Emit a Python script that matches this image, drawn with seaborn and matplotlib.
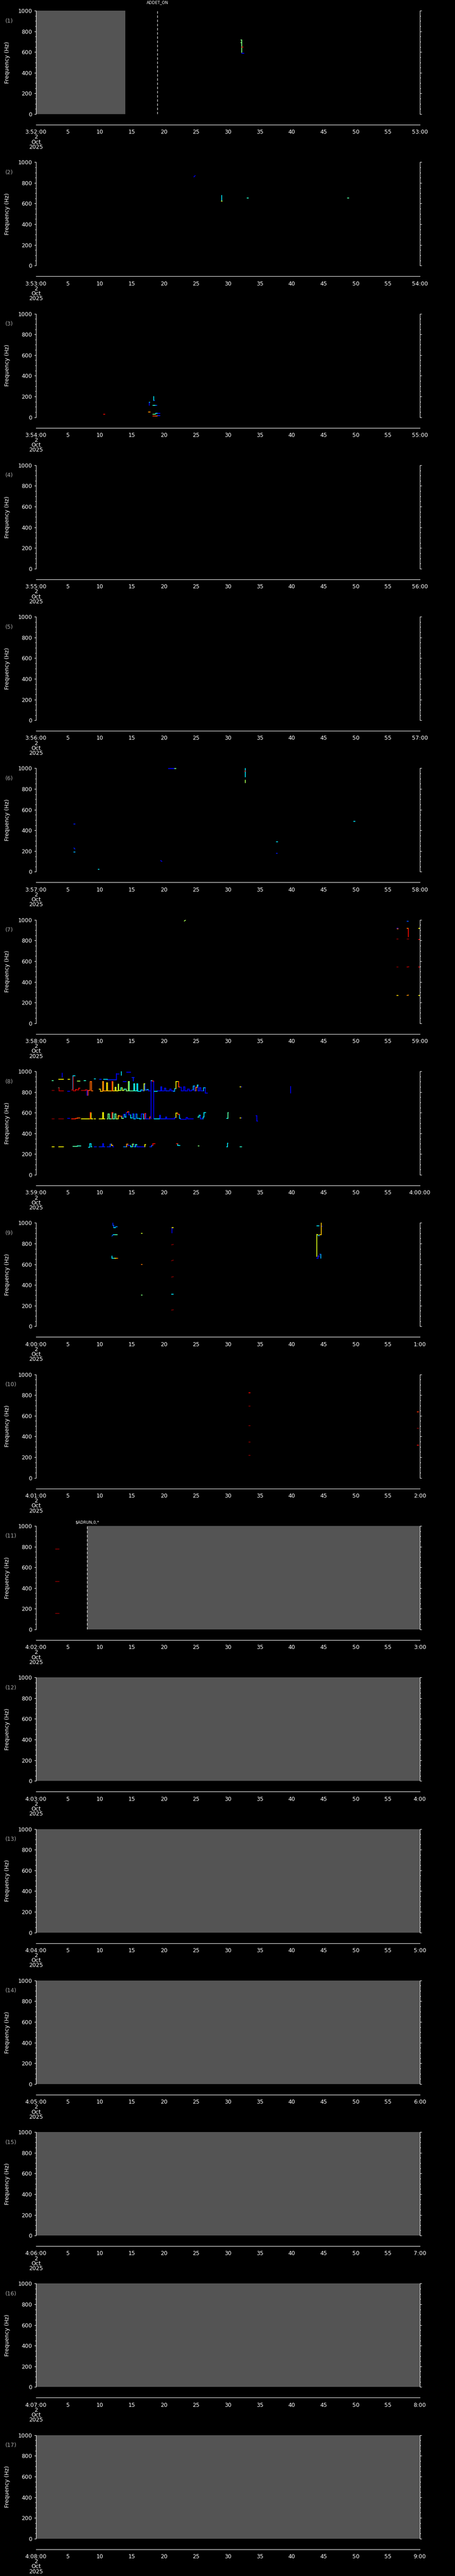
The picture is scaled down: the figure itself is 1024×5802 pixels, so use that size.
import numpy as np
import pandas as pd
import seaborn as sns
import matplotlib
import matplotlib.pyplot as plt
from matplotlib.ticker import MultipleLocator

# Stacked one-minute spectrogram panels, 2 Oct 2025, 03:52 - 04:09
W, H = 1024, 5802
NP = 17

start_hour = [3] * 8 + [4] * 9
start_min = [52, 53, 54, 55, 56, 57, 58, 59, 0, 1, 2, 3, 4, 5, 6, 7, 8]
end_labels = ['53:00', '54:00', '55:00', '56:00', '57:00', '58:00', '59:00', '4:00:00',
              '1:00', '2:00', '3:00', '4:00', '5:00', '6:00', '7:00', '8:00', '9:00']
tick_secs = [0, 5, 10, 15, 20, 25, 30, 35, 40, 45, 50, 55, 60]
freq_ticks = [0, 200, 400, 600, 800, 1000]

# grey "no data" spans: (panel, t0, t1) in seconds
no_data = [(1, 0, 14), (11, 8, 60), (12, 0, 60), (13, 0, 60), (14, 0, 60),
           (15, 0, 60), (16, 0, 60), (17, 0, 60)]
# event markers: (panel, second, text, px above axes)
events = [(1, 19, 'ADDET_ON', 18), (11, 8, '$ADRUN,0,*', 8)]

# isolated marks: (t0, t1, f0, f1, level)  level 0..1 on jet scale
marks_p1 = [(32.2, 32.2, 595, 717, 0.5), (32.05, 32.2, 717, 717, 0.5), (32.05, 32.2, 690, 690, 0.5),
            (32.2, 32.4, 648, 648, 0.9), (32.2, 32.5, 588, 588, 0.12)]
marks_p2 = [(24.7, 24.9, 858, 870, 0.1), (29.05, 29.05, 622, 679, 0.35), (29.0, 29.1, 622, 622, 0.6),
            (33.0, 33.2, 655, 655, 0.4), (48.7, 48.9, 655, 655, 0.45)]
marks_p3 = [(10.6, 10.8, 30, 30, 0.9), (18.4, 18.4, 161, 199, 0.35), (18.4, 18.55, 161, 161, 0.15),
            (17.7, 17.7, 116, 146, 0.1), (17.7, 17.8, 146, 146, 0.35), (18.3, 18.6, 116, 116, 0.4),
            (18.6, 18.9, 113, 113, 0.2), (17.6, 17.9, 49, 49, 0.75), (18.3, 18.7, 30, 30, 0.5),
            (18.7, 19.0, 36, 36, 0.35), (18.8, 19.4, 38, 38, 0.12), (18.3, 18.6, 9, 9, 0.85),
            (18.6, 19.0, 9, 9, 0.8), (19.0, 19.4, 15, 15, 0.15)]
marks_p6 = [(5.95, 6.1, 462, 462, 0.15), (5.95, 6.1, 230, 220, 0.15), (5.95, 6.1, 190, 190, 0.3),
            (9.75, 9.9, 23, 23, 0.35), (19.5, 19.7, 108, 100, 0.12), (20.7, 21.7, 997, 997, 0.12),
            (21.7, 21.9, 997, 997, 0.5), (32.75, 32.75, 917, 1000, 0.35), (32.65, 32.75, 970, 975, 0.9),
            (32.7, 32.7, 860, 886, 0.55), (37.6, 37.8, 288, 288, 0.35), (37.6, 37.7, 176, 176, 0.15),
            (49.7, 49.9, 485, 485, 0.35)]
marks_p7 = [(23.2, 23.4, 988, 998, 0.55),
            (56.4, 56.6, 919, 919, 0.12), (56.5, 56.6, 915, 915, 0.8), (56.4, 56.6, 814, 814, 1.0),
            (56.4, 56.6, 544, 544, 1.0), (56.4, 56.6, 269, 269, 0.68),
            (58.0, 58.2, 988, 988, 0.2), (58.0, 58.2, 918, 918, 0.78), (58.2, 58.2, 837, 915, 0.9),
            (58.0, 58.3, 814, 814, 1.0), (58.0, 58.3, 544, 546, 0.95), (58.0, 58.25, 270, 272, 0.75),
            (59.8, 60.0, 918, 918, 0.65), (59.8, 60.0, 812, 812, 0.9), (59.8, 60.0, 544, 544, 0.92),
            (59.8, 60.0, 270, 270, 0.65)]
marks_p8 = [(18.0, 18.0, 539, 910, 0.12), (18.45, 18.45, 539, 905, 0.12), (2.5, 2.7, 912, 912, 0.45),
            (3.55, 4.35, 921, 921, 0.65), (4.15, 4.15, 945, 985, 0.1), (5.05, 5.3, 925, 925, 0.65),
            (5.75, 6.1, 957, 957, 0.35), (6.45, 6.9, 905, 905, 0.55), (7.5, 7.8, 910, 910, 0.4),
            (9.1, 9.3, 928, 928, 0.35), (9.95, 10.2, 925, 925, 0.15), (10.6, 11.2, 925, 925, 0.35),
            (11.2, 12.6, 920, 920, 0.15), (12.6, 12.6, 920, 980, 0.12), (12.6, 13.0, 975, 975, 0.12),
            (13.35, 13.35, 960, 1000, 0.35), (13.6, 14.1, 900, 900, 0.12), (14.2, 14.8, 990, 990, 0.12),
            (15.0, 15.4, 940, 940, 0.15), (15.2, 15.2, 940, 905, 0.15),
            (31.9, 32.05, 850, 850, 0.65), (32.05, 32.2, 848, 848, 0.12),
            (39.8, 39.8, 790, 855, 0.1), (34.5, 34.5, 520, 570, 0.1), (34.4, 34.5, 570, 570, 0.1),
            (34.5, 34.65, 520, 520, 0.1)]
marks_p9 = [(12.0, 12.0, 977, 1000, 0.15), (12.0, 12.2, 977, 977, 0.2), (12.2, 12.2, 955, 977, 0.2),
            (12.2, 12.45, 955, 955, 0.35), (12.45, 12.7, 963, 963, 0.25), (11.9, 12.1, 873, 887, 0.2),
            (12.1, 12.4, 887, 887, 0.35), (12.4, 12.7, 887, 887, 0.45), (11.9, 11.9, 658, 680, 0.35),
            (11.9, 12.3, 658, 658, 0.35), (12.3, 12.6, 658, 658, 0.65), (12.6, 12.8, 658, 658, 0.8),
            (16.45, 16.6, 900, 900, 0.6), (16.45, 16.6, 600, 600, 0.78), (16.45, 16.6, 301, 301, 0.5),
            (21.25, 21.25, 903, 953, 0.1), (21.3, 21.5, 953, 953, 0.65), (21.2, 21.5, 788, 792, 1.0),
            (21.2, 21.5, 634, 640, 1.0), (21.2, 21.5, 476, 480, 1.0), (21.2, 21.45, 312, 312, 0.35),
            (21.2, 21.5, 157, 160, 1.0), (43.9, 44.25, 972, 972, 0.35), (44.6, 44.6, 887, 1000, 0.7),
            (44.6, 44.75, 967, 967, 0.1), (43.9, 43.9, 677, 891, 0.62), (43.9, 44.1, 884, 884, 0.6),
            (44.1, 44.35, 877, 877, 0.3), (44.35, 44.6, 884, 884, 0.7), (43.9, 44.15, 657, 657, 0.12),
            (44.15, 44.15, 657, 680, 0.12), (44.15, 44.3, 680, 680, 0.12), (44.3, 44.55, 698, 698, 0.15),
            (44.55, 44.55, 657, 698, 0.3)]
marks_p10 = [(33.3, 33.5, 824, 824, 0.9), (33.3, 33.5, 695, 695, 1.0), (33.3, 33.5, 506, 506, 1.0),
             (33.3, 33.5, 348, 348, 1.0), (33.3, 33.5, 219, 219, 1.0), (59.6, 59.8, 640, 640, 0.85),
             (59.6, 59.8, 480, 480, 1.0), (59.6, 59.8, 318, 318, 0.9)]
marks_p11 = [(3.1, 3.65, 776, 776, 1.0), (3.1, 3.65, 463, 463, 1.0), (3.1, 3.65, 155, 155, 1.0)]

# panel 8 step tracks: (t0, t1, freq, level) pieces
p8_upper = [(2.5, 2.85, 814, 1.0), (3.55, 3.65, 843, 0.4), (3.65, 4.35, 812, 0.95),
            (4.95, 5.3, 805, 0.1), (5.6, 5.75, 820, 0.95), (5.75, 5.85, 950, 0.3), (5.85, 6.2, 812, 0.95),
            (6.2, 6.4, 825, 0.9), (6.4, 6.7, 818, 0.95), (6.7, 6.9, 838, 0.9), (7.1, 7.7, 814, 0.95),
            (7.7, 8.0, 818, 0.9), (8.0, 8.15, 770, 0.1), (8.15, 8.5, 814, 0.85), (8.5, 8.7, 900, 0.8),
            (8.7, 8.9, 812, 0.8), (9.9, 10.1, 830, 0.65), (10.1, 10.45, 805, 0.7), (10.45, 10.6, 900, 0.75),
            (10.6, 11.05, 812, 0.75), (11.05, 11.2, 890, 0.65), (11.2, 11.9, 812, 0.7), (11.9, 12.05, 900, 0.88),
            (12.05, 12.4, 812, 0.7), (12.4, 12.55, 845, 0.6), (12.55, 12.85, 812, 0.65), (12.85, 12.95, 875, 0.5),
            (12.95, 13.3, 815, 0.6), (13.3, 13.5, 840, 0.4), (13.5, 13.75, 815, 0.6), (13.75, 14.1, 830, 0.4),
            (14.1, 14.45, 812, 0.5), (14.45, 14.6, 900, 0.55), (14.6, 15.3, 812, 0.45), (15.3, 15.45, 880, 0.35),
            (15.45, 15.8, 812, 0.4), (15.8, 15.95, 880, 0.35), (15.95, 16.4, 805, 0.35), (16.4, 16.7, 818, 0.3),
            (16.7, 16.9, 812, 0.15), (16.9, 17.05, 880, 0.6), (17.05, 17.35, 818, 0.2), (17.35, 17.6, 825, 0.3),
            (17.6, 17.85, 812, 0.1), (18.0, 18.2, 910, 0.35), (18.2, 18.45, 905, 0.9), (18.5, 19.0, 806, 0.35),
            (19.0, 19.5, 810, 0.1), (19.5, 19.7, 850, 0.15), (19.7, 20.1, 812, 0.1), (20.1, 20.3, 836, 0.12),
            (20.3, 20.9, 812, 0.15), (20.9, 21.1, 830, 0.1), (21.1, 21.5, 812, 0.12), (21.5, 21.7, 805, 0.25),
            (21.7, 21.9, 832, 0.3), (21.9, 22.3, 900, 0.65), (22.3, 22.45, 850, 0.85), (22.45, 22.7, 845, 0.1),
            (22.7, 23.1, 812, 0.1), (23.1, 23.3, 850, 0.1), (23.3, 23.7, 812, 0.12), (23.7, 24.0, 830, 0.1),
            (24.0, 24.3, 812, 0.1), (24.3, 24.6, 822, 0.1), (24.6, 24.8, 860, 0.3), (24.8, 25.0, 812, 0.15),
            (25.0, 25.2, 845, 0.78), (25.2, 25.4, 866, 0.4), (25.4, 25.6, 812, 0.1), (25.6, 25.8, 843, 0.15),
            (25.8, 26.2, 812, 0.1), (26.2, 26.5, 843, 0.3), (26.5, 26.8, 790, 0.1)]
p8_middle = [(2.5, 2.85, 539, 1.0), (3.55, 4.35, 539, 1.0), (4.95, 5.3, 545, 0.1), (5.6, 6.2, 539, 0.88),
             (6.2, 6.5, 545, 0.85), (6.5, 6.9, 550, 0.8), (7.1, 8.3, 539, 0.65), (8.3, 8.5, 539, 0.68),
             (8.5, 8.65, 599, 0.85), (8.65, 8.9, 539, 0.65), (9.1, 9.3, 541, 0.65), (9.9, 10.45, 539, 0.65),
             (10.45, 10.6, 599, 0.65), (10.6, 10.8, 539, 0.65), (11.1, 11.3, 539, 0.5), (11.3, 11.45, 590, 0.5),
             (11.45, 11.9, 539, 0.45), (11.9, 12.05, 599, 0.88), (12.05, 12.3, 539, 0.45), (12.3, 12.5, 590, 0.4),
             (12.5, 12.9, 539, 0.55), (12.9, 13.1, 570, 0.7), (13.1, 13.4, 565, 0.85), (13.4, 13.7, 545, 0.5),
             (13.7, 13.9, 585, 0.15), (13.9, 14.1, 560, 0.35), (14.1, 14.3, 600, 0.1), (14.3, 14.5, 610, 0.85),
             (14.5, 14.8, 580, 0.15), (14.8, 15.1, 550, 0.35), (15.1, 15.3, 590, 0.15), (15.3, 15.6, 541, 0.3),
             (15.6, 15.8, 590, 0.12), (15.8, 16.2, 545, 0.3), (16.2, 16.5, 539, 0.35), (16.5, 16.8, 590, 0.15),
             (16.8, 17.0, 539, 0.3), (17.0, 17.2, 592, 0.88), (17.2, 17.8, 541, 0.15), (17.8, 17.95, 560, 0.85),
             (18.5, 19.3, 539, 0.35), (19.3, 19.45, 575, 0.1), (19.45, 20.3, 541, 0.15), (20.3, 20.45, 560, 0.15),
             (20.45, 21.7, 539, 0.12), (21.7, 21.9, 555, 0.15), (21.9, 22.2, 595, 0.65), (22.2, 22.45, 585, 0.85),
             (22.45, 22.6, 545, 0.3), (22.6, 23.5, 536, 0.1), (23.5, 23.7, 555, 0.12), (23.7, 24.6, 539, 0.1),
             (25.3, 25.5, 560, 0.4), (25.5, 25.7, 575, 0.35), (25.7, 26.1, 539, 0.15), (26.1, 26.3, 560, 0.3),
             (26.3, 26.55, 600, 0.35), (29.8, 30.0, 545, 0.35), (30.0, 30.1, 600, 0.45),
             (31.9, 32.05, 548, 0.65), (32.05, 32.2, 548, 0.12)]
p8_lower = [(2.5, 2.85, 272, 0.65), (3.55, 4.35, 272, 0.65), (5.8, 6.5, 275, 0.45), (6.5, 7.0, 278, 0.4),
            (8.2, 8.4, 265, 0.35), (8.4, 8.6, 300, 0.35), (8.6, 8.75, 272, 0.35), (9.1, 9.45, 272, 0.15),
            (9.9, 10.45, 272, 0.15), (10.45, 10.6, 300, 0.1), (10.6, 10.8, 272, 0.15), (11.1, 11.6, 272, 0.15),
            (11.6, 11.8, 295, 0.2), (11.8, 12.0, 285, 0.7), (12.0, 12.2, 272, 0.1), (13.7, 14.2, 272, 0.25),
            (14.2, 14.4, 295, 0.75), (14.4, 14.8, 285, 0.15), (14.8, 15.1, 272, 0.35), (15.1, 15.3, 295, 0.5),
            (15.3, 15.6, 272, 0.2), (15.6, 15.8, 290, 0.4), (15.8, 16.2, 272, 0.15), (16.2, 17.0, 272, 0.12),
            (17.0, 17.15, 290, 0.65), (17.8, 18.1, 272, 0.15), (18.1, 18.3, 285, 0.2), (18.3, 18.6, 299, 0.9),
            (21.95, 22.2, 299, 0.88), (22.2, 22.5, 285, 0.35), (25.35, 25.5, 280, 0.5),
            (29.8, 29.95, 272, 0.35), (29.95, 30.05, 305, 0.35), (31.9, 32.2, 272, 0.4)]

marks = {1: marks_p1, 2: marks_p2, 3: marks_p3, 6: marks_p6, 7: marks_p7, 8: marks_p8,
         9: marks_p9, 10: marks_p10, 11: marks_p11}
tracks = {8: [p8_upper, p8_middle, p8_lower]}

# build segment table
rows = []
seg = 0
for p, lst in marks.items():
    for t0, t1, f0, f1, c in lst:
        rows += [(p, seg, t0, f0, c), (p, seg, t1, f1, c)]
        seg += 1
for p, trs in tracks.items():
    for tr in trs:
        prev = None
        for t0, t1, f, c in tr:
            rows += [(p, seg, t0, f, c), (p, seg, t1, f, c)]
            seg += 1
            if prev is not None and abs(prev[1] - t0) < 1e-6:
                rows += [(p, seg, t0, prev[2], c), (p, seg, t0, f, c)]
                seg += 1
            prev = (t0, t1, f, c)
segs = pd.DataFrame(rows, columns=['panel', 'seg', 't', 'f', 'c'])

sns.set_theme(style='dark', rc={'figure.facecolor': 'black', 'axes.facecolor': 'black',
                                'text.color': 'white', 'axes.labelcolor': 'white',
                                'xtick.color': 'white', 'ytick.color': 'white'})
plt.rcParams['font.family'] = ['DejaVu Sans']
jet = matplotlib.colormaps['jet']

fig = plt.figure(figsize=(W / 100, H / 100), dpi=100)
left, width = 80.7 / W, 864 / W
ph = H / NP

for i in range(NP):
    p = i + 1
    off = i * ph
    ax = fig.add_axes([left, 1 - (off + 257) / H, width, 233 / H])
    ax.set_facecolor('black')

    for q, t0, t1 in no_data:
        if q == p:
            ax.axvspan(t0, t1, color='#545454', lw=0)

    sub = segs[segs.panel == p]
    if len(sub):
        sns.lineplot(data=sub, x='t', y='f', hue='c', units='seg', estimator=None, sort=False,
                     palette=jet, hue_norm=(0, 1), legend=False, lw=1.3, ax=ax)

    for q, ts, txt, dy in events:
        if q == p:
            ax.axvline(ts, color='white', lw=0.8, ls=(0, (5, 3.5)))
            ax.text(ts, 1 + dy / 233, txt, ha='center', va='center', fontsize=6.5,
                    color='white', transform=ax.get_xaxis_transform())

    ax.set_xlim(0, 60)
    ax.set_ylim(0, 1000)
    for s in ['top', 'bottom']:
        ax.spines[s].set_visible(False)
    for s in ['left', 'right']:
        ax.spines[s].set_visible(True)
        ax.spines[s].set_color('white')
        ax.spines[s].set_linewidth(0.8)
    ax.set_xticks([])
    ax.set_yticks(freq_ticks)
    ax.yaxis.set_minor_locator(MultipleLocator(50))
    ax.tick_params(axis='y', which='major', left=True, right=True, direction='out', length=3,
                   width=0.8, labelsize=9, pad=3, colors='white')
    ax.tick_params(axis='y', which='minor', left=True, right=True, direction='out', length=1.6,
                   width=0.8, colors='white')
    ax.set_xlabel('')
    ax.set_ylabel('Frequency (Hz)', fontsize=9, color='white')
    ax.yaxis.set_label_coords((23 - 80.7) / 864, 0.5)
    ax.grid(False)

    fig.text(12 / W, 1 - (off + 47) / H, '(%d)' % p, ha='left', va='center',
             fontsize=9, color='#a8a8a8')

    # separate time axis below each panel
    tax = fig.add_axes([left, 1 - (off + 281) / H, width, 0.2 / H])
    tax.set_facecolor('none')
    tax.set_xlim(0, 60)
    tax.set_yticks([])
    for s in ['top', 'left', 'right']:
        tax.spines[s].set_visible(False)
    tax.spines['bottom'].set_color('white')
    tax.spines['bottom'].set_linewidth(0.8)
    first = '%d:%02d:00\n2\nOct\n2025' % (start_hour[i], start_min[i])
    labels = [first] + [str(s) for s in tick_secs[1:-1]] + [end_labels[i]]
    tax.set_xticks(tick_secs, labels)
    tax.xaxis.set_minor_locator(MultipleLocator(1))
    tax.tick_params(axis='x', which='major', direction='out', length=3.4, width=0.8,
                    labelsize=9, pad=4, colors='white')
    tax.tick_params(axis='x', which='minor', direction='out', length=1.7, width=0.8, colors='white')
    for lbl in tax.get_xticklabels():
        lbl.set_linespacing(0.82)
        lbl.set_verticalalignment('top')
    tax.grid(False)

fig.savefig('out.png', dpi=100, facecolor='black')
